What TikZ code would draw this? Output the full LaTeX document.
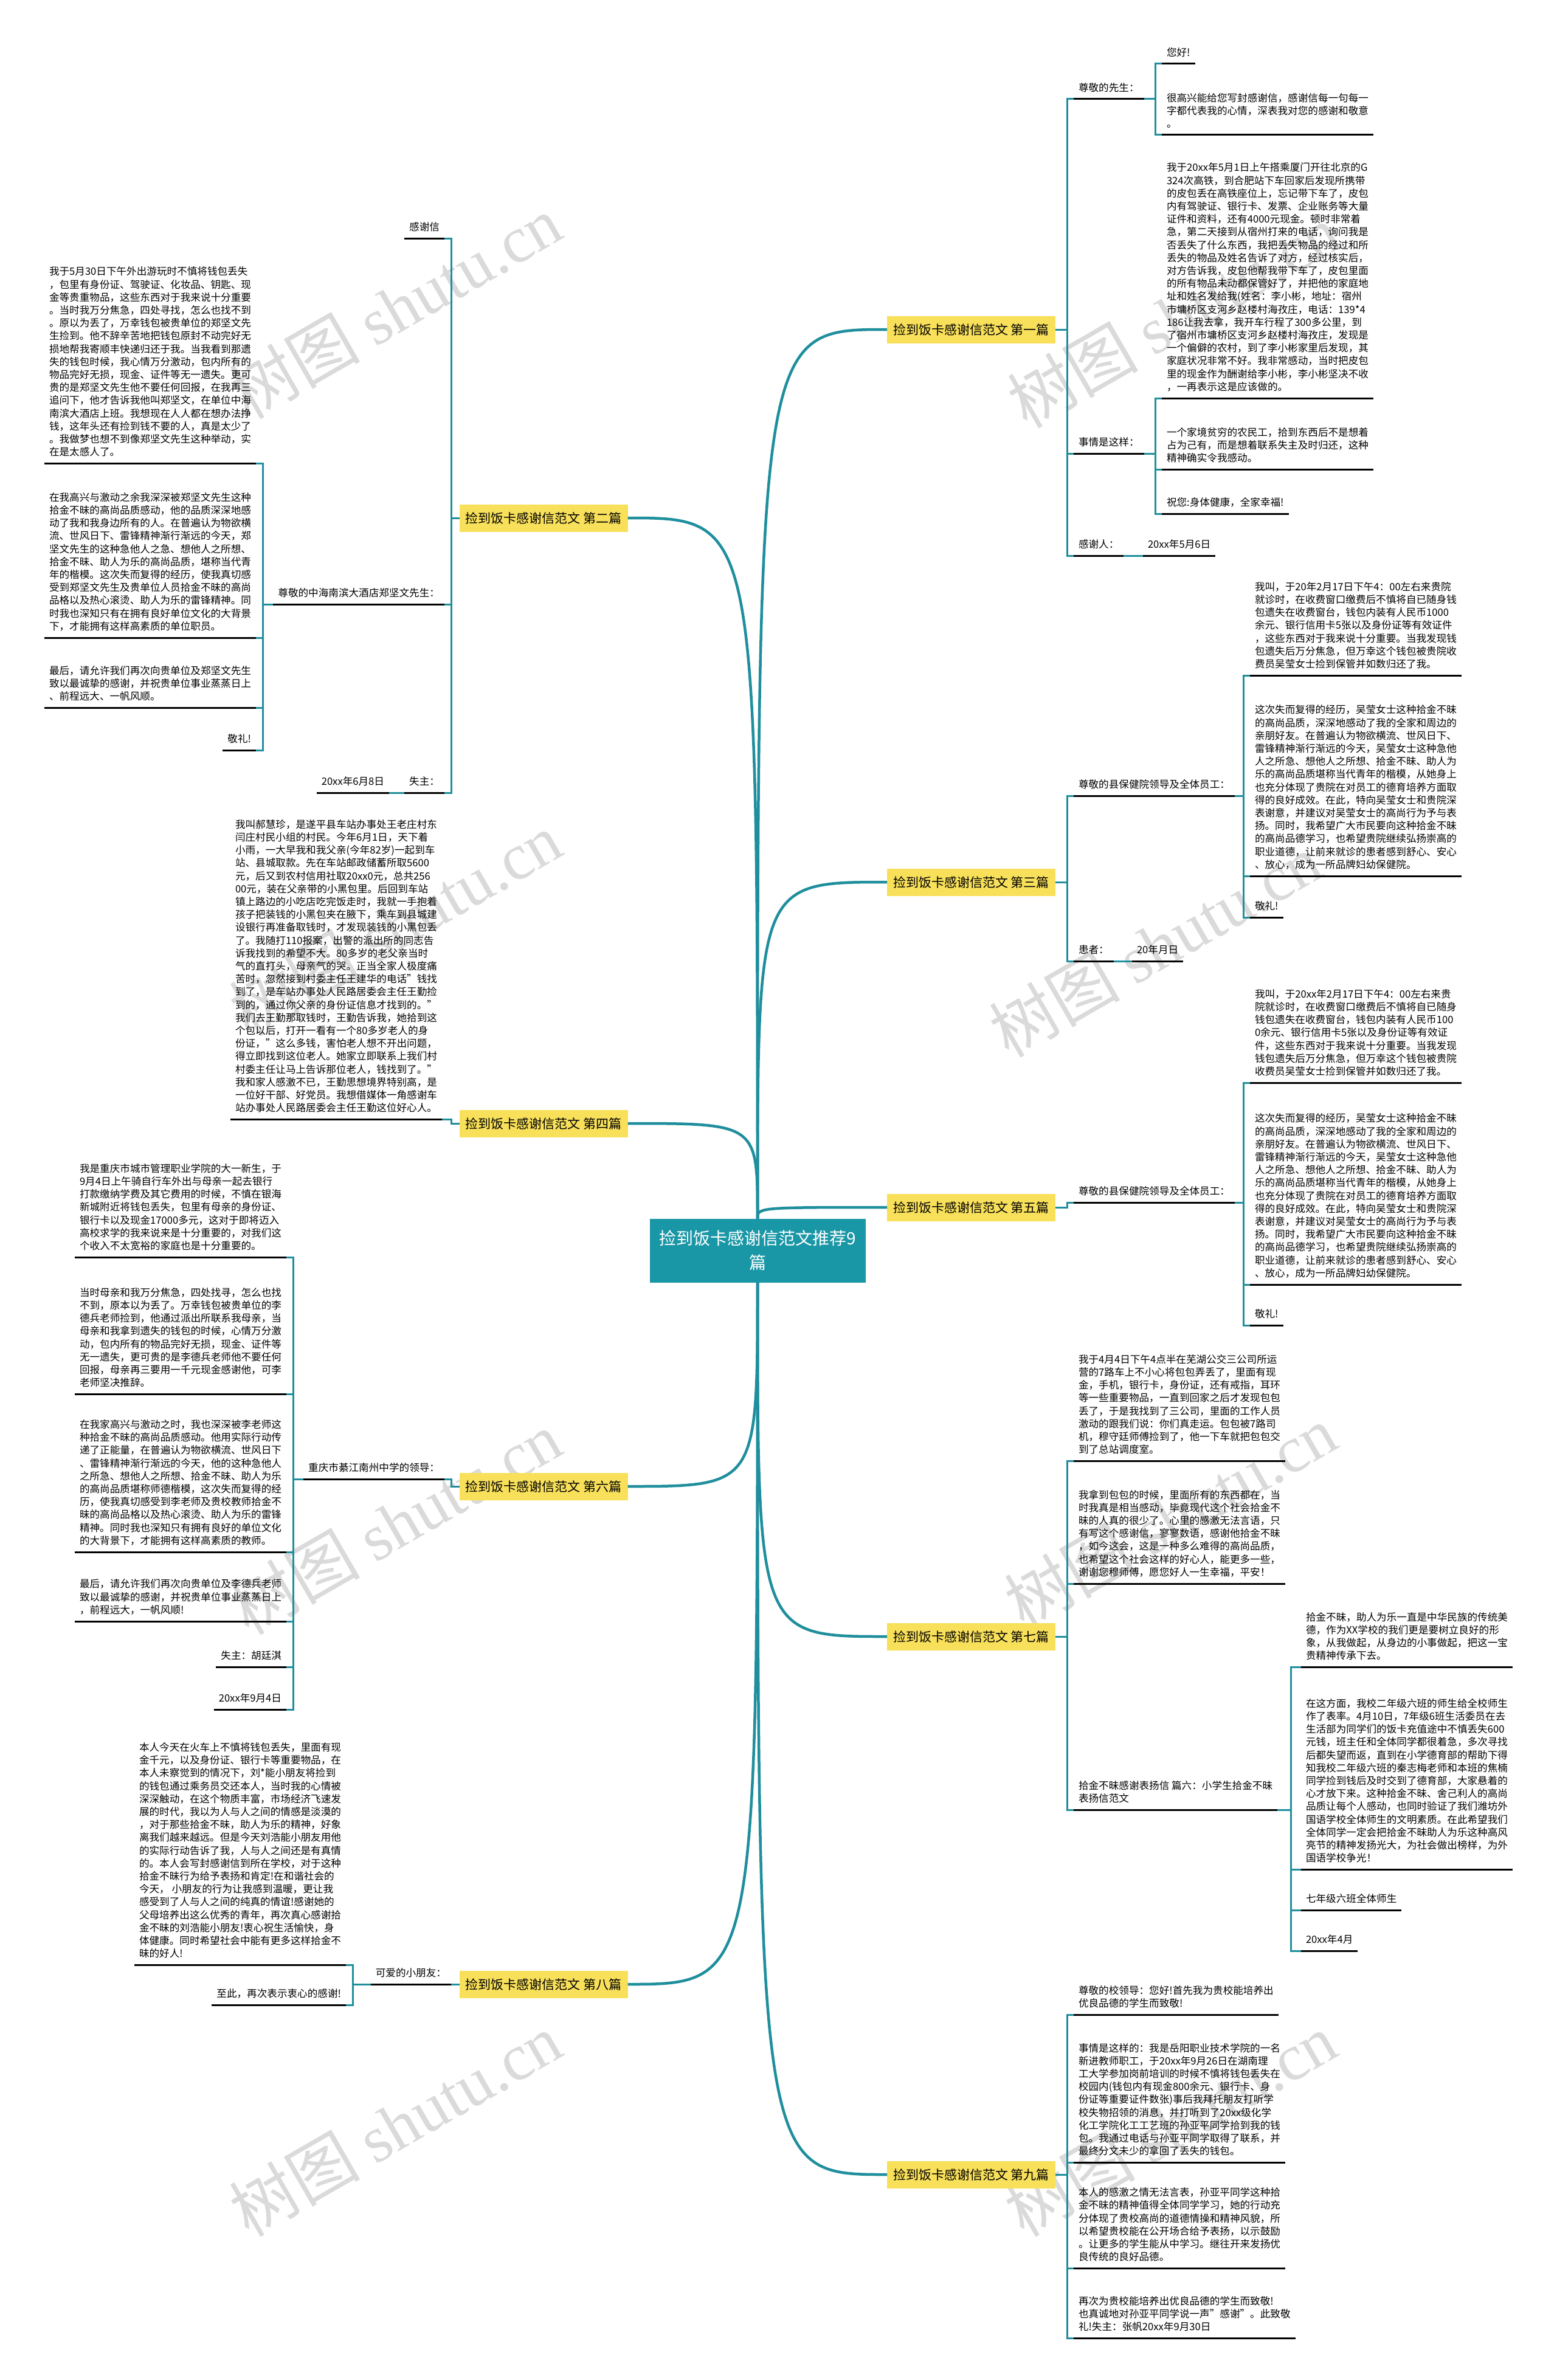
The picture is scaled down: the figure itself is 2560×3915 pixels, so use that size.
\documentclass[tikz,border=0pt]{standalone}
\usepackage{fontspec}
\setmainfont{Noto Sans CJK SC}
\newfontfamily\wmlat{Liberation Serif}
\definecolor{lnteal}{HTML}{1F8E9D}
\definecolor{rootteal}{HTML}{1A97A6}
\definecolor{brYellow}{HTML}{F8E05A}
\definecolor{wmgray}{HTML}{DADADA}
\newcommand\bodyfont{\fontsize{16.6pt}{21.2pt}\selectfont}
\newcommand\myul[1]{\draw[ul] (#1.south west) -- (#1.south east);}
\begin{document}
\begin{tikzpicture}[x=1pt,y=-1pt,
  conn/.style={draw=lnteal, line width=3pt},
  curvelink/.style={draw=lnteal, line width=4.5pt},
  leaf/.style={font=\bodyfont, align=left, inner xsep=8pt, inner ysep=11pt, outer sep=0pt},
  lr/.style={leaf, anchor=south west},
  ll/.style={leaf, anchor=south east},
  ul/.style={draw=black, line width=3pt},
  branch/.style={fill=brYellow, font=\fontsize{21pt}{25pt}\selectfont, minimum width=277pt, minimum height=45pt, inner sep=0pt, outer sep=0pt},
  rootbox/.style={fill=rootteal, text=white, font=\fontsize{28pt}{40pt}\selectfont, align=center, minimum width=355pt, minimum height=105pt, inner sep=0pt, outer sep=0pt},
  wm/.style={text=wmgray, font=\fontsize{108pt}{112pt}\selectfont, rotate=30, inner sep=0pt}
]
\useasboundingbox (0,0) rectangle (2560,3915);
\fill[white] (0,0) rectangle (2560,3915);

% watermarks
\foreach \i/\wx/\wy in {1/650/505, 2/1930/520, 3/650/1520, 4/1900/1555, 5/650/2505, 6/1925/2495, 7/650/3495, 8/1925/3495}
  \node[wm] (wm\i) at (\wx,\wy) {树图 {\wmlat shutu.cn}};

% root
\node[rootbox] (C) at (1246,2057) {捡到饭卡感谢信范文推荐9\\篇};

% branch boxes
\node[branch] (B1) at (1597.5,542) {捡到饭卡感谢信范文 第一篇};
\node[branch] (B3) at (1597.5,1451) {捡到饭卡感谢信范文 第三篇};
\node[branch] (B5) at (1597.5,1986) {捡到饭卡感谢信范文 第五篇};
\node[branch] (B7) at (1597.5,2692) {捡到饭卡感谢信范文 第七篇};
\node[branch] (B9) at (1597.5,3577) {捡到饭卡感谢信范文 第九篇};
\node[branch] (B2) at (894,852) {捡到饭卡感谢信范文 第二篇};
\node[branch] (B4) at (894,1848) {捡到饭卡感谢信范文 第四篇};
\node[branch] (B6) at (894,2445) {捡到饭卡感谢信范文 第六篇};
\node[branch] (B8) at (894,3264) {捡到饭卡感谢信范文 第八篇};

% curves from root
\draw[curvelink] (C.north) .. controls (C.north |- B1.west) .. (B1.west);
\draw[curvelink] (C.north) .. controls (C.north |- B3.west) .. (B3.west);
\draw[curvelink] (C.north) .. controls (C.north |- B5.west) .. (B5.west);
\draw[curvelink] (C.south) .. controls (C.south |- B7.west) .. (B7.west);
\draw[curvelink] (C.south) .. controls (C.south |- B9.west) .. (B9.west);
\draw[curvelink] (C.north) .. controls (C.north |- B2.east) .. (B2.east);
\draw[curvelink] (C.north) .. controls (C.north |- B4.east) .. (B4.east);
\draw[curvelink] (C.south) .. controls (C.south |- B6.east) .. (B6.east);
\draw[curvelink] (C.south) .. controls (C.south |- B8.east) .. (B8.east);

%================ Branch 1
\coordinate (k1) at (1755,542);
\node[lr] (n1a) at (1766,163) {尊敬的先生：};
\coordinate (k1a) at (1900,163);
\node[lr] (n1a1) at (1911,105) {您好!};
\node[lr] (n1a2) at (1911,222) {很高兴能给您写封感谢信，感谢信每一句每一\\字都代表我的心情，深表我对您的感谢和敬意\\。};
\node[lr] (n1b) at (1766,746) {事情是这样：};
\coordinate (k1b) at (1900,746);
\node[lr] (n1b1) at (1911,655) {我于20xx年5月1日上午搭乘厦门开往北京的G\\324次高铁，到合肥站下车回家后发现所携带\\的皮包丢在高铁座位上，忘记带下车了，皮包\\内有驾驶证、银行卡、发票、企业账务等大量\\证件和资料，还有4000元现金。顿时非常着\\急，第二天接到从宿州打来的电话，询问我是\\否丢失了什么东西，我把丢失物品的经过和所\\丢失的物品及姓名告诉了对方，经过核实后，\\对方告诉我，皮包他帮我带下车了，皮包里面\\的所有物品未动都保管好了，并把他的家庭地\\址和姓名发给我(姓名：李小彬，地址：宿州\\市墉桥区支河乡赵楼村海孜庄，电话：139*4\\186让我去拿，我开车行程了300多公里，到\\了宿州市墉桥区支河乡赵楼村海孜庄，发现是\\一个偏僻的农村，到了李小彬家里后发现，其\\家庭状况非常不好。我非常感动，当时把皮包\\里的现金作为酬谢给李小彬，李小彬坚决不收\\，一再表示这是应该做的。};
\node[lr] (n1b2) at (1911,772) {一个家境贫穷的农民工，拾到东西后不是想着\\占为己有，而是想着联系失主及时归还，这种\\精神确实令我感动。};
\node[lr] (n1b3) at (1911,845) {祝您:身体健康，全家幸福!};
\node[lr] (n1c) at (1766,914) {感谢人：};
\node[lr] (n1c1) at (1880,914) {20xx年5月6日};

\draw[conn] (B1.east) -- (k1);
\draw[conn] (k1) |- (n1a.south west);
\draw[conn] (k1) |- (n1b.south west);
\draw[conn] (k1) |- (n1c.south west);
\draw[conn] (n1a.south east) -- (k1a);
\draw[conn] (k1a) |- (n1a1.south west);
\draw[conn] (k1a) |- (n1a2.south west);
\draw[conn] (n1b.south east) -- (k1b);
\draw[conn] (k1b) |- (n1b1.south west);
\draw[conn] (k1b) |- (n1b2.south west);
\draw[conn] (k1b) |- (n1b3.south west);
\draw[conn] (n1c.south east) -- (n1c1.south west);
\foreach \n in {n1a,n1a1,n1a2,n1b,n1b1,n1b2,n1b3,n1c,n1c1} {\myul{\n}}

%================ Branch 3
\coordinate (k3) at (1755,1451);
\node[lr] (n3a) at (1766,1309) {尊敬的县保健院领导及全体员工：};
\coordinate (k3a) at (2045,1309);
\node[lr] (n3a1) at (2056,1111) {我叫，于20年2月17日下午4：00左右来贵院\\就诊时，在收费窗口缴费后不慎将自已随身钱\\包遗失在收费窗台，钱包内装有人民币1000\\余元、银行信用卡5张以及身份证等有效证件\\，这些东西对于我来说十分重要。当我发现钱\\包遗失后万分焦急，但万幸这个钱包被贵院收\\费员吴莹女士捡到保管并如数归还了我。};
\node[lr] (n3a2) at (2056,1441) {这次失而复得的经历，吴莹女士这种拾金不昧\\的高尚品质，深深地感动了我的全家和周边的\\亲朋好友。在普遍认为物欲横流、世风日下、\\雷锋精神渐行渐远的今天，吴莹女士这种急他\\人之所急、想他人之所想、拾金不昧、助人为\\乐的高尚品质堪称当代青年的楷模，从她身上\\也充分体现了贵院在对员工的德育培养方面取\\得的良好成效。在此，特向吴莹女士和贵院深\\表谢意，并建议对吴莹女士的高尚行为予与表\\扬。同时，我希望广大市民要向这种拾金不昧\\的高尚品德学习，也希望贵院继续弘扬崇高的\\职业道德，让前来就诊的患者感到舒心、安心\\、放心，成为一所品牌妇幼保健院。};
\node[lr] (n3a3) at (2056,1509) {敬礼!};
\node[lr] (n3b) at (1766,1581) {患者：};
\node[lr] (n3b1) at (1862,1581) {20年月日};

\draw[conn] (B3.east) -- (k3);
\draw[conn] (k3) |- (n3a.south west);
\draw[conn] (k3) |- (n3b.south west);
\draw[conn] (n3a.south east) -- (k3a);
\draw[conn] (k3a) |- (n3a1.south west);
\draw[conn] (k3a) |- (n3a2.south west);
\draw[conn] (k3a) |- (n3a3.south west);
\draw[conn] (n3b.south east) -- (n3b1.south west);
\foreach \n in {n3a,n3a1,n3a2,n3a3,n3b,n3b1} {\myul{\n}}

%================ Branch 5
\coordinate (k5) at (1755,1986);
\node[lr] (n5a) at (1766,1978) {尊敬的县保健院领导及全体员工：};
\coordinate (k5a) at (2045,1978);
\node[lr] (n5a1) at (2056,1781) {我叫，于20xx年2月17日下午4：00左右来贵\\院就诊时，在收费窗口缴费后不慎将自已随身\\钱包遗失在收费窗台，钱包内装有人民币100\\0余元、银行信用卡5张以及身份证等有效证\\件，这些东西对于我来说十分重要。当我发现\\钱包遗失后万分焦急，但万幸这个钱包被贵院\\收费员吴莹女士捡到保管并如数归还了我。};
\node[lr] (n5a2) at (2056,2113) {这次失而复得的经历，吴莹女士这种拾金不昧\\的高尚品质，深深地感动了我的全家和周边的\\亲朋好友。在普遍认为物欲横流、世风日下、\\雷锋精神渐行渐远的今天，吴莹女士这种急他\\人之所急、想他人之所想、拾金不昧、助人为\\乐的高尚品质堪称当代青年的楷模，从她身上\\也充分体现了贵院在对员工的德育培养方面取\\得的良好成效。在此，特向吴莹女士和贵院深\\表谢意，并建议对吴莹女士的高尚行为予与表\\扬。同时，我希望广大市民要向这种拾金不昧\\的高尚品德学习，也希望贵院继续弘扬崇高的\\职业道德，让前来就诊的患者感到舒心、安心\\、放心，成为一所品牌妇幼保健院。};
\node[lr] (n5a3) at (2056,2180) {敬礼!};

\draw[conn] (B5.east) -- (k5) |- (n5a.south west);
\draw[conn] (n5a.south east) -- (k5a);
\draw[conn] (k5a) |- (n5a1.south west);
\draw[conn] (k5a) |- (n5a2.south west);
\draw[conn] (k5a) |- (n5a3.south west);
\foreach \n in {n5a,n5a1,n5a2,n5a3} {\myul{\n}}

%================ Branch 7
\coordinate (k7) at (1755,2692);
\node[lr] (n7a) at (1766,2403) {我于4月4日下午4点半在芜湖公交三公司所运\\营的7路车上不小心将包包弄丢了，里面有现\\金，手机，银行卡，身份证，还有戒指，耳环\\等一些重要物品，一直到回家之后才发现包包\\丢了，于是我找到了三公司，里面的工作人员\\激动的跟我们说：你们真走运。包包被7路司\\机，穆守廷师傅捡到了，他一下车就把包包交\\到了总站调度室。};
\node[lr] (n7b) at (1766,2605) {我拿到包包的时候，里面所有的东西都在，当\\时我真是相当感动，毕竟现代这个社会拾金不\\昧的人真的很少了。心里的感激无法言语，只\\有写这个感谢信，寥寥数语，感谢他拾金不昧\\，如今这会，这是一种多么难得的高尚品质，\\也希望这个社会这样的好心人，能更多一些，\\谢谢您穆师傅，愿您好人一生幸福，平安！};
\node[lr] (n7c) at (1766,2977) {拾金不昧感谢表扬信 篇六：小学生拾金不昧\\表扬信范文};
\coordinate (k7c) at (2123,2977);
\node[lr] (n7c1) at (2140,2742) {拾金不昧，助人为乐一直是中华民族的传统美\\德，作为XX学校的我们更是要树立良好的形\\象，从我做起，从身边的小事做起，把这一宝\\贵精神传承下去。};
\node[lr] (n7c2) at (2140,3075) {在这方面，我校二年级六班的师生给全校师生\\作了表率。4月10日，7年级6班生活委员在去\\生活部为同学们的饭卡充值途中不慎丢失600\\元钱，班主任和全体同学都很着急，多次寻找\\后都失望而返，直到在小学德育部的帮助下得\\知我校二年级六班的秦志梅老师和本班的焦楠\\同学捡到钱后及时交到了德育部，大家悬着的\\心才放下来。这种拾金不昧、舍己利人的高尚\\品质让每个人感动，也同时验证了我们潍坊外\\国语学校全体师生的文明素质。在此希望我们\\全体同学一定会把拾金不昧助人为乐这种高风\\亮节的精神发扬光大，为社会做出榜样，为外\\国语学校争光！};
\node[lr] (n7c3) at (2140,3142) {七年级六班全体师生};
\node[lr] (n7c4) at (2140,3209) {20xx年4月};

\draw[conn] (B7.east) -- (k7);
\draw[conn] (k7) |- (n7a.south west);
\draw[conn] (k7) |- (n7b.south west);
\draw[conn] (k7) |- (n7c.south west);
\draw[conn] (n7c.south east) -- (k7c);
\draw[conn] (k7c) |- (n7c1.south west);
\draw[conn] (k7c) |- (n7c2.south west);
\draw[conn] (k7c) |- (n7c3.south west);
\draw[conn] (k7c) |- (n7c4.south west);
\foreach \n in {n7a,n7b,n7c,n7c1,n7c2,n7c3,n7c4} {\myul{\n}}

%================ Branch 9
\coordinate (k9) at (1755,3577);
\node[lr] (n9a) at (1766,3314) {尊敬的校领导：您好!首先我为贵校能培养出\\优良品德的学生而致敬!};
\node[lr] (n9b) at (1766,3557) {事情是这样的：我是岳阳职业技术学院的一名\\新进教师职工，于20xx年9月26日在湖南理\\工大学参加岗前培训的时候不慎将钱包丢失在\\校园内(钱包内有现金800余元、银行卡、身\\份证等重要证件数张)事后我拜托朋友打听学\\校失物招领的消息，并打听到了20xx级化学\\化工学院化工工艺班的孙亚平同学拾到我的钱\\包。我通过电话与孙亚平同学取得了联系，并\\最终分文未少的拿回了丢失的钱包。};
\node[lr] (n9c) at (1766,3731) {本人的感激之情无法言表，孙亚平同学这种拾\\金不昧的精神值得全体同学学习，她的行动充\\分体现了贵校高尚的道德情操和精神风貌，所\\以希望贵校能在公开场合给予表扬，以示鼓励\\。让更多的学生能从中学习。继往开来发扬优\\良传统的良好品德。};
\node[lr] (n9d) at (1766,3846) {再次为贵校能培养出优良品德的学生而致敬!\\也真诚地对孙亚平同学说一声"感谢"。此致敬\\礼!失主：张帆20xx年9月30日};

\draw[conn] (B9.east) -- (k9);
\draw[conn] (k9) |- (n9a.south west);
\draw[conn] (k9) |- (n9b.south west);
\draw[conn] (k9) |- (n9c.south west);
\draw[conn] (k9) |- (n9d.south west);
\foreach \n in {n9a,n9b,n9c,n9d} {\myul{\n}}

%================ Branch 2 (left)
\coordinate (k2) at (742,852);
\node[ll] (n2a) at (731,392) {感谢信};
\node[ll] (n2b) at (731,994) {尊敬的中海南滨大酒店郑坚文先生：};
\coordinate (k2b) at (432,994);
\node[ll] (n2b1) at (421,762) {我于5月30日下午外出游玩时不慎将钱包丢失\\，包里有身份证、驾驶证、化妆品、钥匙、现\\金等贵重物品，这些东西对于我来说十分重要\\。当时我万分焦急，四处寻找，怎么也找不到\\。原以为丢了，万幸钱包被贵单位的郑坚文先\\生捡到。他不辞辛苦地把钱包原封不动完好无\\损地帮我寄顺丰快递归还于我。当我看到那遗\\失的钱包时候，我心情万分激动，包内所有的\\物品完好无损，现金、证件等无一遗失。更可\\贵的是郑坚文先生他不要任何回报，在我再三\\追问下，他才告诉我他叫郑坚文，在单位中海\\南滨大酒店上班。我想现在人人都在想办法挣\\钱，这年头还有捡到钱不要的人，真是太少了\\。我做梦也想不到像郑坚文先生这种举动，实\\在是太感人了。};
\node[ll] (n2b2) at (421,1049) {在我高兴与激动之余我深深被郑坚文先生这种\\拾金不昧的高尚品质感动，他的品质深深地感\\动了我和我身边所有的人。在普遍认为物欲横\\流、世风日下、雷锋精神渐行渐远的今天，郑\\坚文先生的这种急他人之急、想他人之所想、\\拾金不昧、助人为乐的高尚品质，堪称当代青\\年的楷模。这次失而复得的经历，使我真切感\\受到郑坚文先生及贵单位人员拾金不昧的高尚\\品格以及热心滚烫、助人为乐的雷锋精神。同\\时我也深知只有在拥有良好单位文化的大背景\\下，才能拥有这样高素质的单位职员。};
\node[ll] (n2b3) at (421,1164) {最后，请允许我们再次向贵单位及郑坚文先生\\致以最诚挚的感谢，并祝贵单位事业蒸蒸日上\\、前程远大、一帆风顺。};
\node[ll] (n2b4) at (421,1234) {敬礼!};
\node[ll] (n2c) at (731,1304) {失主：};
\node[ll] (n2c1) at (640,1304) {20xx年6月8日};

\draw[conn] (B2.west) -- (k2);
\draw[conn] (k2) |- (n2a.south east);
\draw[conn] (k2) |- (n2b.south east);
\draw[conn] (k2) |- (n2c.south east);
\draw[conn] (n2b.south west) -- (k2b);
\draw[conn] (k2b) |- (n2b1.south east);
\draw[conn] (k2b) |- (n2b2.south east);
\draw[conn] (k2b) |- (n2b3.south east);
\draw[conn] (k2b) |- (n2b4.south east);
\draw[conn] (n2c.south west) -- (n2c1.south east);
\foreach \n in {n2a,n2b,n2b1,n2b2,n2b3,n2b4,n2c,n2c1} {\myul{\n}}

%================ Branch 4 (left)
\coordinate (k4) at (742,1848);
\node[ll] (n4a) at (727,1841) {我叫郝慧珍，是遂平县车站办事处王老庄村东\\闫庄村民小组的村民。今年6月1日，天下着\\小雨，一大早我和我父亲(今年82岁)一起到车\\站、县城取款。先在车站邮政储蓄所取5600\\元，后又到农村信用社取20xx0元，总共256\\00元，装在父亲带的小黑包里。后回到车站\\镇上路边的小吃店吃完饭走时，我就一手抱着\\孩子把装钱的小黑包夹在腋下，乘车到县城建\\设银行再准备取钱时，才发现装钱的小黑包丢\\了。我随打110报案，出警的派出所的同志告\\诉我找到的希望不大。80多岁的老父亲当时\\气的直打头，母亲气的哭。正当全家人极度痛\\苦时，忽然接到村委主任王建华的电话"钱找\\到了，是车站办事处人民路居委会主任王勤捡\\到的，通过你父亲的身份证信息才找到的。"\\我们去王勤那取钱时，王勤告诉我，她拾到这\\个包以后，打开一看有一个80多岁老人的身\\份证，"这么多钱，害怕老人想不开出问题，\\得立即找到这位老人。她家立即联系上我们村\\村委主任让马上告诉那位老人，钱找到了。"\\我和家人感激不已，王勤思想境界特别高，是\\一位好干部、好党员。我想借媒体一角感谢车\\站办事处人民路居委会主任王勤这位好心人。};
\draw[conn] (B4.west) -- (k4) |- (n4a.south east);
\myul{n4a}

%================ Branch 6 (left)
\coordinate (k6) at (742,2445);
\node[ll] (n6a) at (731,2433) {重庆市綦江南州中学的领导：};
\coordinate (k6a) at (482,2433);
\node[ll] (n6a1) at (471,2068) {我是重庆市城市管理职业学院的大一新生，于\\9月4日上午骑自行车外出与母亲一起去银行\\打款缴纳学费及其它费用的时候，不慎在银海\\新城附近将钱包丢失，包里有母亲的身份证、\\银行卡以及现金17000多元，这对于即将迈入\\高校求学的我来说来是十分重要的，对我们这\\个收入不太宽裕的家庭也是十分重要的。};
\node[ll] (n6a2) at (471,2293) {当时母亲和我万分焦急，四处找寻，怎么也找\\不到，原本以为丢了。万幸钱包被贵单位的李\\德兵老师捡到，他通过派出所联系我母亲，当\\母亲和我拿到遗失的钱包的时候，心情万分激\\动，包内所有的物品完好无损，现金、证件等\\无一遗失，更可贵的是李德兵老师他不要任何\\回报，母亲再三要用一千元现金感谢他，可李\\老师坚决推辞。};
\node[ll] (n6a3) at (471,2553) {在我家高兴与激动之时，我也深深被李老师这\\种拾金不昧的高尚品质感动。他用实际行动传\\递了正能量，在普遍认为物欲横流、世风日下\\、雷锋精神渐行渐远的今天，他的这种急他人\\之所急、想他人之所想、拾金不昧、助人为乐\\的高尚品质堪称师德楷模，这次失而复得的经\\历，使我真切感受到李老师及贵校教师拾金不\\昧的高尚品格以及热心滚烫、助人为乐的雷锋\\精神。同时我也深知只有拥有良好的单位文化\\的大背景下，才能拥有这样高素质的教师。};
\node[ll] (n6a4) at (471,2667) {最后，请允许我们再次向贵单位及李德兵老师\\致以最诚挚的感谢，并祝贵单位事业蒸蒸日上\\，前程远大，一帆风顺!};
\node[ll] (n6a5) at (471,2742) {失主：胡廷淇};
\node[ll] (n6a6) at (471,2812) {20xx年9月4日};

\draw[conn] (B6.west) -- (k6) |- (n6a.south east);
\draw[conn] (n6a.south west) -- (k6a);
\foreach \n in {n6a1,n6a2,n6a3,n6a4,n6a5,n6a6} {\draw[conn] (k6a) |- (\n.south east);}
\foreach \n in {n6a,n6a1,n6a2,n6a3,n6a4,n6a5,n6a6} {\myul{\n}}

%================ Branch 8 (left)
\node[ll] (n8a) at (742,3264) {可爱的小朋友：};
\coordinate (k8a) at (580,3264);
\node[ll] (n8a1) at (569,3232) {本人今天在火车上不慎将钱包丢失，里面有现\\金千元，以及身份证、银行卡等重要物品，在\\本人未察觉到的情况下，刘*能小朋友将捡到\\的钱包通过乘务员交还本人，当时我的心情被\\深深触动，在这个物质丰富，市场经济飞速发\\展的时代，我以为人与人之间的情感是淡漠的\\，对于那些拾金不昧，助人为乐的精神，好象\\离我们越来越远。但是今天刘浩能小朋友用他\\的实际行动告诉了我，人与人之间还是有真情\\的。本人会写封感谢信到所在学校，对于这种\\拾金不昧行为给予表扬和肯定!在和谐社会的\\今天， 小朋友的行为让我感到温暖，更让我\\感受到了人与人之间的纯真的情谊!感谢她的\\父母培养出这么优秀的青年，再次真心感谢拾\\金不昧的刘浩能小朋友!衷心祝生活愉快，身\\体健康。同时希望社会中能有更多这样拾金不\\昧的好人!};
\node[ll] (n8a2) at (569,3298) {至此，再次表示衷心的感谢!};

\draw[conn] (B8.west) -- (n8a.south east);
\draw[conn] (n8a.south west) -- (k8a);
\draw[conn] (k8a) |- (n8a1.south east);
\draw[conn] (k8a) |- (n8a2.south east);
\foreach \n in {n8a,n8a1,n8a2} {\myul{\n}}

\end{tikzpicture}
\end{document}
